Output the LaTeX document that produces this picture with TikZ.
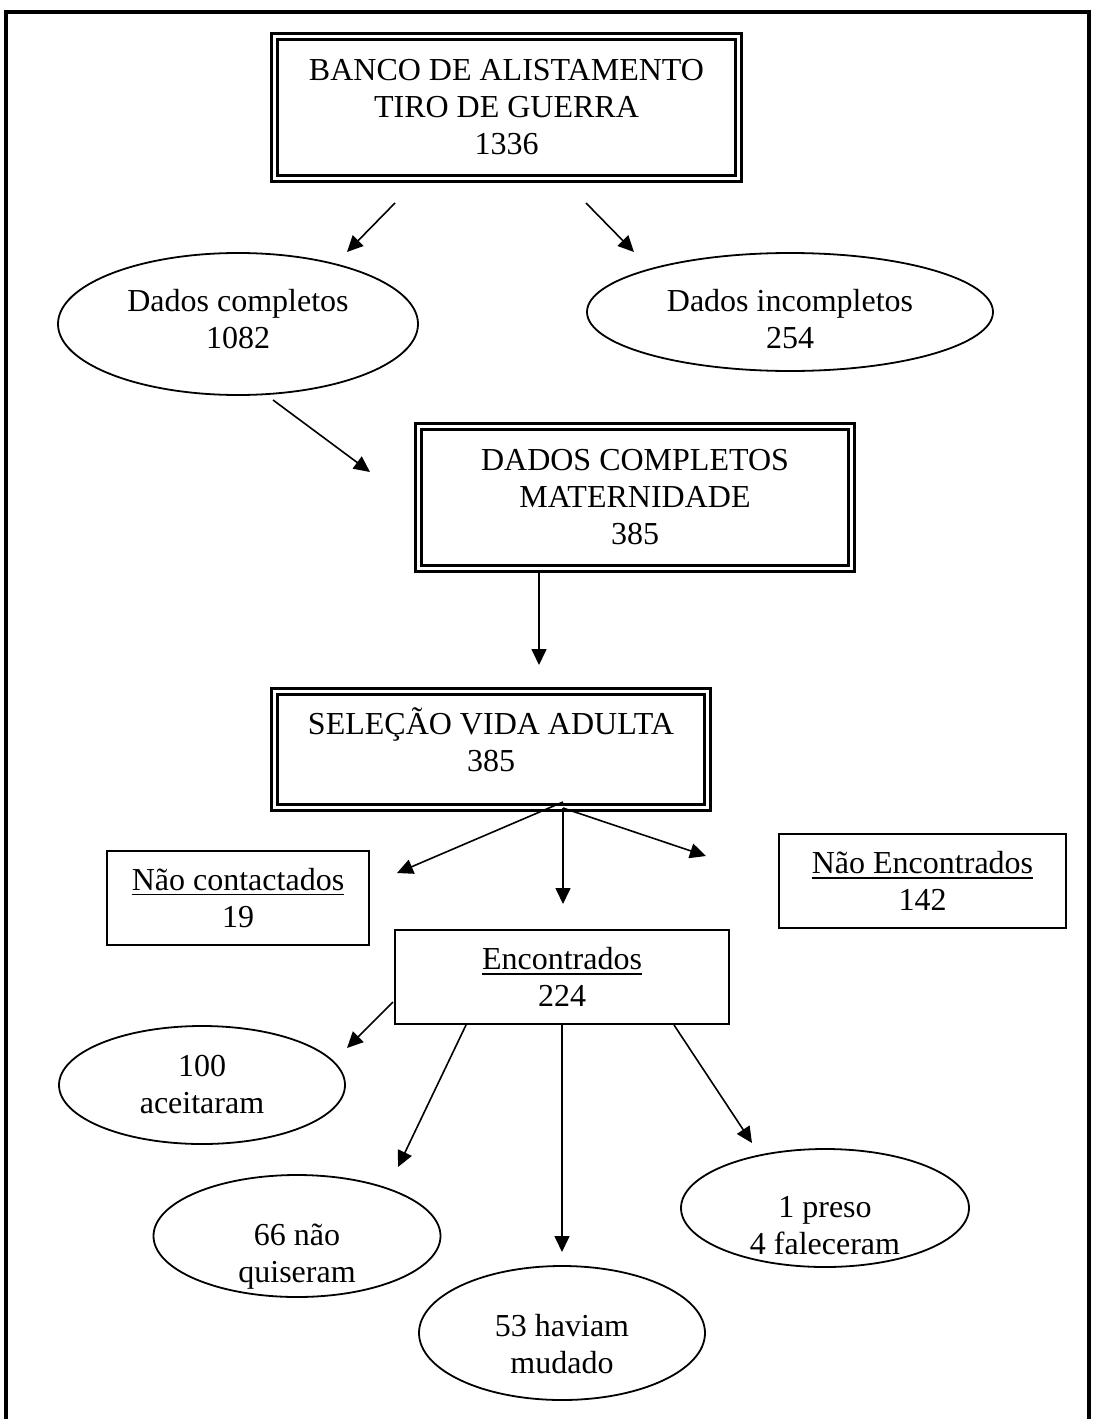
\documentclass[tikz,border=0pt]{standalone}
\usepackage{fontspec}
\setmainfont{Liberation Serif}
\usepackage{tikz}
\usetikzlibrary{arrows.meta,shapes.geometric}
\newcommand{\sublinha}[1]{\setbox0\hbox{#1}\rlap{\rule[-5bp]{\wd0}{1.8bp}}\box0}
\newcommand{\lowpad}[1]{\rule[-#1]{0pt}{0pt}}
\newcommand{\highpad}[1]{\rule{0pt}{#1}}
\tikzset{
    txt/.style={align=center, inner sep=0pt, font=\fontsize{32bp}{37bp}\selectfont},
    dbox/.style={txt, draw, double, line width=3bp, double distance=3bp},
    sbox/.style={txt, draw, line width=2.4bp},
    oval/.style={txt, draw, ellipse, inner ysep=-20bp, line width=1.8bp},
    seta/.style={-{Triangle[length=16bp,width=15bp]}, line width=1.6bp}}

\begin{document}
\begin{tikzpicture}[x=1bp,y=-1bp]
\useasboundingbox (0,0) rectangle (1097,1419);
\draw[line width=3.5bp] (6,1419) -- (6,12) -- (1089,12) -- (1089,1419);
% caixas duplas
\node[dbox, minimum width=464bp, minimum height=142bp] (banco) at (506.5,107.5) {BANCO DE ALISTAMENTO\\TIRO DE GUERRA\\1336};
\node[dbox, minimum width=433bp, minimum height=142bp] (matern) at (635,497.5) {DADOS COMPLETOS\\MATERNIDADE\\385};
\node[dbox, minimum width=433bp, minimum height=116bp] (selecao) at (491,749.5) {SELEÇÃO VIDA ADULTA\\385\lowpad{20bp}};
% caixas simples
\node[sbox, minimum width=262bp, minimum height=94bp] (naocont) at (238,898) {\sublinha{Não contactados}\\19};
\node[sbox, minimum width=287bp, minimum height=94bp] (naoenc) at (922.5,881) {\sublinha{Não Encontrados}\\142};
\node[sbox, minimum width=334bp, minimum height=94bp] (encont) at (562,977) {\sublinha{Encontrados}\\224};
% elipses
\node[oval, minimum width=360bp, minimum height=142bp] (dcomp) at (238,324) {Dados completos\\1082\lowpad{10bp}};
\node[oval, minimum width=406bp, minimum height=118bp] (dincomp) at (790,312) {\highpad{36bp}Dados incompletos\\254};
\node[oval, minimum width=286bp, minimum height=118bp] (aceit) at (202,1085) {100\\aceitaram};
\node[oval, minimum width=287bp, minimum height=122bp] (naoquis) at (297,1236) {\highpad{62bp}66 não\\quiseram};
\node[oval, minimum width=286bp, minimum height=134bp] (mudado) at (562,1333) {\highpad{44bp}53 haviam\\mudado};
\node[oval, minimum width=288bp, minimum height=118bp] (preso) at (825,1208) {\highpad{56bp}1 preso\\4 faleceram};
% setas
\coordinate (A1) at (395,203);
\coordinate (A1t) at (347,252);
\coordinate (A2) at (586,203);
\coordinate (A2t) at (634,252);
\coordinate (A3) at (273,400);
\coordinate (A3t) at (370,472);
\coordinate (A4) at (539,573);
\coordinate (A4t) at (539,665);
\coordinate (S0) at (563,802);
\coordinate (S1) at (563,808);
\coordinate (A5t) at (397,873);
\coordinate (A6t) at (563,904);
\coordinate (A7t) at (706,856);
\coordinate (E0) at (393,1002);
\coordinate (E0t) at (347,1048);
\coordinate (E1) at (466,1025);
\coordinate (E1t) at (398,1167);
\coordinate (E2) at (562,1025);
\coordinate (E2t) at (562,1252);
\coordinate (E3) at (674,1025);
\coordinate (E3t) at (752,1143);
\draw[seta] (A1) -- (A1t);
\draw[seta] (A2) -- (A2t);
\draw[seta] (A3) -- (A3t);
\draw[seta] (A4) -- (A4t);
\draw[seta] (S0) -- (A5t);
\draw[seta] (S1) -- (A6t);
\draw[seta] (S1) -- (A7t);
\draw[seta] (E0) -- (E0t);
\draw[seta] (E1) -- (E1t);
\draw[seta] (E2) -- (E2t);
\draw[seta] (E3) -- (E3t);
\end{tikzpicture}
\end{document}
